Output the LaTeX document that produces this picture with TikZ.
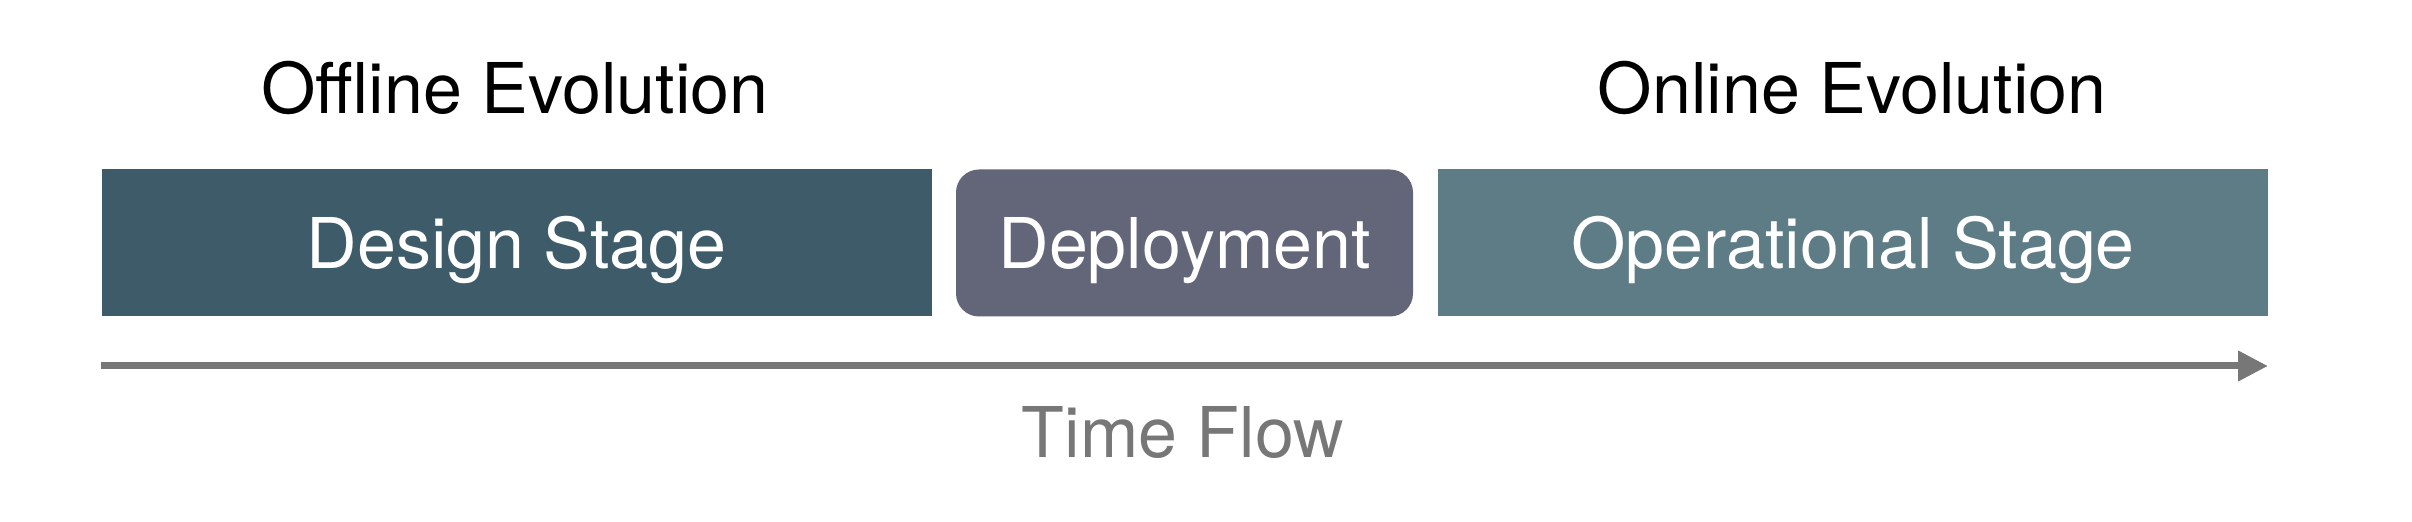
\documentclass[tikz,border=0pt]{standalone}
\usepackage{fontspec}
\setmainfont{TeX Gyre Heros}
\usetikzlibrary{arrows.meta}
\definecolor{designc}{RGB}{61,91,104}
\definecolor{deployc}{RGB}{99,101,121}
\definecolor{operc}{RGB}{94,124,134}
\definecolor{flowc}{RGB}{119,119,119}
\tikzset{
  stagebox/.style={fill=#1, draw=none, text=white, minimum height=147*0.5pt,
    inner sep=0pt, text height=25.1pt, text depth=0pt,
    font=\fontsize{35pt}{40pt}\selectfont},
  titletext/.style={anchor=base, inner sep=0pt, font=\fontsize{35pt}{40pt}\selectfont},
  flowarrow/.style={draw=flowc, line width=3.5pt, -{Triangle[length=15pt,width=14.5pt]}}
}
\begin{document}
\begin{tikzpicture}[x=0.5pt,y=-0.5pt]
\useasboundingbox (0,0) rectangle (2412,522);
\node[stagebox=designc, minimum width=830*0.5pt] (design) at (516.5,243) {Design Stage};
\node[stagebox=deployc, minimum width=457*0.5pt, rounded corners=11.5pt] (deploy) at (1184.5,243) {Deployment};
\node[stagebox=operc, minimum width=830*0.5pt] (oper) at (1853,243) {Operational Stage};
\node[titletext] (offline) at (515,114) {Offline Evolution};
\node[titletext] (online) at (1852,114) {Online Evolution};
\coordinate (tstart) at (101,366);
\coordinate (tend) at (2268,366);
\draw[flowarrow] (tstart) -- (tend);
\node[titletext, text=flowc] (flow) at (1183,458) {Time Flow};
\end{tikzpicture}
\end{document}
